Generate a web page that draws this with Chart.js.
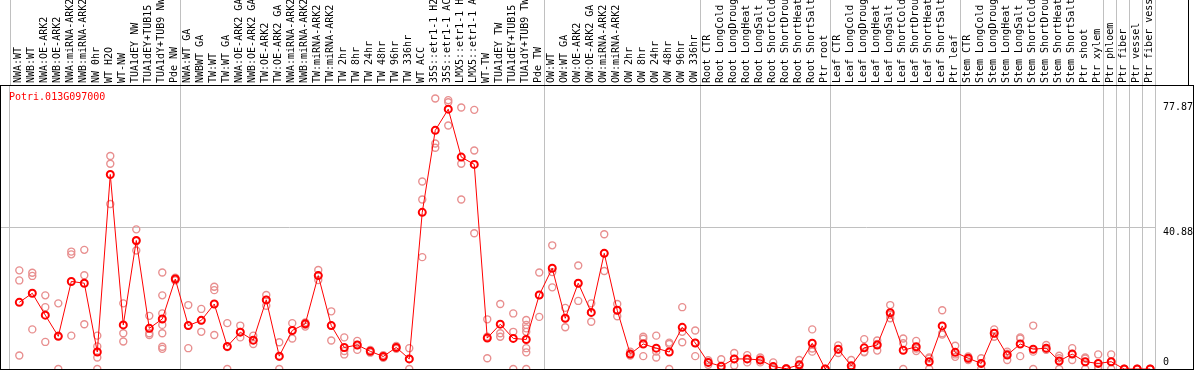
<!DOCTYPE html>
<html>
<head>
<meta charset="utf-8">
<script src="https://cdn.jsdelivr.net/npm/chart.js@4/dist/chart.umd.min.js"></script>
<style>
  body { margin: 0; background: #fff; }
  canvas { display: block; }
</style>
</head>
<body>
<canvas id="myChart" width="1194" height="370"></canvas>
<script>
const geneId = 'Potri.013G097000';

const categories = [
    'NWA:WT', 'NWB:WT', 'NWA:OE-ARK2', 'NWB:OE-ARK2', 'NWA:miRNA-ARK2', 'NWB:miRNA-ARK2', 'NW 0hr', 'WT H2O', 'WT-NW',
    'TUA1dEY NW', 'TUA1dEY+TUB15 NW', 'TUA1dY+TUB9 NW', 'Pde NW',
    'NWA:WT GA', 'NWBWT GA', 'TW:WT', 'TW:WT GA', 'NWA:OE-ARK2 GA', 'NWB:OE-ARK2 GA', 'TW:OE-ARK2', 'TW:OE-ARK2 GA',
    'NWA:miRNA-ARK2', 'NWB:miRNA-ARK2', 'TW:miRNA-ARK2', 'TW:miRNA-ARK2', 'TW 2hr', 'TW 8hr', 'TW 24hr', 'TW 48hr',
    'TW 96hr', 'TW 336hr', 'WT ACC', '35S::etr1-1 H2O', '35S::etr1-1 ACC', 'LMX5::etr1-1 H2O', 'LMX5::etr1-1 ACC',
    'WT-TW', 'TUA1dEY TW', 'TUA1dEY+TUB15 TW', 'TUA1dY+TUB9 TW', 'Pde TW',
    'OW:WT', 'OW:WT GA', 'OW:OE-ARK2', 'OW:OE-ARK2 GA', 'OW:miRNA-ARK2', 'OW:miRNA-ARK2', 'OW 2hr', 'OW 8hr',
    'OW 24hr', 'OW 48hr', 'OW 96hr', 'OW 336hr',
    'Root CTR', 'Root LongCold', 'Root LongDrought', 'Root LongHeat', 'Root LongSalt', 'Root ShortCold',
    'Root ShortDrought', 'Root ShortHeat', 'Root ShortSalt', 'Ptr root',
    'Leaf CTR', 'Leaf LongCold', 'Leaf LongDrought', 'Leaf LongHeat', 'Leaf LongSalt', 'Leaf ShortCold',
    'Leaf ShortDrought', 'Leaf ShortHeat', 'Leaf ShortSalt', 'Ptr leaf',
    'Stem CTR', 'Stem LongCold', 'Stem LongDrought', 'Stem LongHeat', 'Stem LongSalt', 'Stem ShortCold',
    'Stem ShortDrought', 'Stem ShortHeat', 'Stem ShortSalt', 'Ptr shoot', 'Ptr xylem', 'Ptr phloem', 'Ptr fiber',
    'Ptr vessel', 'Ptr fiber vessel'
];

// mean expression per sample
const means = [
    19.2, 21.8, 15.5, 9.4, 25.2, 24.7, 4.9, 56.0, 12.7, 37.0, 11.7, 14.4, 25.9,
    12.5, 14.0, 18.7, 6.5, 10.6, 8.3, 19.9, 3.7, 11.1, 13.0, 26.9, 12.5, 6.2, 6.9, 5.1, 3.6, 6.2, 2.9,
    45.1, 68.7, 74.8, 61.0, 58.9, 8.9, 12.9, 8.8, 8.5, 21.3,
    29.0, 14.6, 24.7, 16.3, 33.3, 16.9, 4.3, 7.2, 6.0, 4.9, 12.0, 7.5,
    1.9, 0.8, 2.9, 2.9, 2.6, 0.7, 0.1, 1.2, 7.4, 0.0,
    5.7, 0.9, 6.1, 6.9, 16.2, 5.4, 6.4, 2.1, 12.4, 4.8,
    3.1, 1.6, 10.3, 4.0, 7.2, 5.7, 6.0, 2.3, 4.3, 2.1, 1.6, 2.1, 0, 0, 0
];

// individual replicates per sample
const replicates = [
    [28.4, 25.5, 3.9], [27.7, 26.8, 11.4], [21.2, 17.8, 7.8], [18.9, 9.6, 0], [33.8, 33.0, 9.6],
    [34.3, 27.0, 12.9], [9.6, 6.5, 3.3, 0], [61.3, 59.1, 47.5], [18.9, 10.3, 7.9], [40.2, 36.8, 34.1],
    [15.3, 10.3, 9.8], [27.8, 21.2, 16.0, 12.7, 10.3, 6.4, 5.8], [26.3, 25.9, 25.5],
    [18.4, 12.5, 6.0], [17.3, 14.0, 10.7], [23.7, 22.7, 9.8], [13.2, 6.3, 0], [12.5, 10.7, 9.1],
    [9.6, 8.3, 7.2], [21.3, 19.9, 18.2], [7.7, 3.5, 0], [13.2, 11.1, 8.8], [13.4, 12.7, 12.2],
    [28.5, 26.9, 25.6], [16.6, 12.5, 8.2], [9.1, 5.2, 4.2], [8.1, 6.9, 5.5], [5.5, 5.1, 4.7],
    [4.0, 3.6, 3.2], [6.6, 6.2, 5.8], [6.0, 2.9, 0],
    [54.0, 48.8, 32.2], [77.87, 64.9, 63.7], [77.4, 76.8, 70.1], [75.3, 59.1, 48.8], [74.6, 62.9, 39.1],
    [14.3, 9.3, 3.1], [18.7, 10.3, 9.3], [16.0, 10.7, 0], [14.1, 12.7, 11.7, 10.7, 6.0, 4.8, 0], [27.8, 21.3, 15.0],
    [35.6, 27.9, 23.5], [17.6, 14.6, 12.0], [29.8, 24.7, 19.6], [18.9, 16.3, 13.6], [38.8, 33.3, 28.2],
    [18.7, 16.9, 15.2], [5.0, 4.3, 3.9], [9.3, 8.7, 3.7], [9.6, 5.0, 3.3], [7.6, 7.2, 0],
    [17.8, 10.7, 7.7], [11.1, 7.5, 3.7],
    [2.5, 1.9, 1.2], [2.8, 0, 0], [4.6, 2.9, 1.0], [4.0, 2.9, 1.9], [3.3, 2.6, 1.9], [1.9, 0.2, 0],
    [0.2, 0, 0], [2.6, 0.9, 0], [11.4, 5.9, 5.0], [0, 0, 0],
    [6.8, 5.7, 4.6], [2.6, 0, 0], [8.6, 5.0, 4.8], [8.2, 7.2, 5.3], [18.4, 15.6, 14.6], [8.8, 7.4, 0],
    [8.1, 5.9, 5.2], [3.3, 3.0, 0], [16.9, 10.3, 9.9], [6.7, 4.2, 3.5],
    [3.6, 3.1, 2.6], [3.1, 1.6, 0], [11.4, 10.3, 9.3], [5.0, 4.4, 2.6], [9.1, 8.8, 3.7], [12.5, 5.0, 0],
    [6.9, 5.7, 5.5], [3.8, 3.1, 0], [6.0, 4.3, 2.6], [3.3, 3.0, 0], [4.2, 0.6, 0], [4.2, 2.1, 0],
    [0, 0, 0], [0, 0, 0], [0, 0, 0]
];

// last sample index of each group (a separator line follows it)
const groupEnds = [12, 40, 52, 62, 72, 83, 84, 85, 86, 87];

const yTicks = [0, 40.88, 77.87];
const yTickLabels = ['0', '40.88', '77.87'];
const yMax = 81.76;

document.addEventListener('DOMContentLoaded', function() {
    const separators = [-0.72].concat(groupEnds.map(i => i + 0.37));

    const meanPoints = means.map((v, i) => ({ x: i, y: v }));
    const repPoints = [];
    replicates.forEach((reps, i) => reps.forEach(v => repPoints.push({ x: i, y: v })));

    const MONO = '"DejaVu Sans Mono", "Liberation Mono", monospace';

    const decor = {
        id: 'decor',
        afterDraw(chart) {
            const ctx = chart.ctx;
            const a = chart.chartArea;
            const x = chart.scales.x;
            const y = chart.scales.y;
            ctx.save();

            // separator lines through the label strip
            ctx.strokeStyle = '#c0c0c0';
            ctx.lineWidth = 1;
            separators.forEach(v => {
                const px = Math.round(x.getPixelForValue(v)) + 0.5;
                ctx.beginPath();
                ctx.moveTo(px, 0);
                ctx.lineTo(px, a.top);
                ctx.stroke();
            });

            // frame
            ctx.strokeStyle = '#000';
            ctx.strokeRect(0.5, a.top + 0.5, chart.width - 1, a.bottom - a.top);
            ctx.beginPath();
            ctx.moveTo(1188.5, 0);
            ctx.lineTo(1188.5, a.top);
            ctx.stroke();

            // sample names, rotated
            ctx.font = '10px ' + MONO;
            ctx.fillStyle = '#000';
            ctx.textAlign = 'left';
            ctx.textBaseline = 'middle';
            categories.forEach((c, i) => {
                ctx.save();
                ctx.translate(x.getPixelForValue(i) - 1, a.top - 2);
                ctx.rotate(-Math.PI / 2);
                ctx.fillText(c, 0, 0);
                ctx.restore();
            });

            // gene id
            ctx.fillStyle = '#ff0000';
            ctx.fillText(geneId, 9, a.top + 12);

            // y labels on the right
            ctx.fillStyle = '#000';
            yTicks.forEach((v, k) => {
                let py = y.getPixelForValue(v);
                if (v === 0) py -= 7;
                else if (v === yTicks[yTicks.length - 1]) py += 9;
                else py += 5;
                ctx.fillText(yTickLabels[k], 1163, py);
            });

            ctx.restore();
        }
    };

    const ctx = document.getElementById('myChart').getContext('2d');

    const myChart = new Chart(ctx, {
        type: 'line',
        data: {
            datasets: [
                {
                    label: 'mean',
                    data: meanPoints,
                    borderColor: '#ff0000',
                    borderWidth: 1,
                    pointRadius: 3.5,
                    pointBorderWidth: 2,
                    pointBorderColor: '#ff0000',
                    pointBackgroundColor: 'rgba(0,0,0,0)',
                    tension: 0,
                    clip: false,
                    order: 0
                },
                {
                    type: 'scatter',
                    label: 'replicates',
                    data: repPoints,
                    showLine: false,
                    pointRadius: 3.5,
                    pointBorderWidth: 1.4,
                    pointBorderColor: '#e88f8f',
                    pointBackgroundColor: 'rgba(0,0,0,0)',
                    clip: false,
                    order: 1
                }
            ]
        },
        options: {
            responsive: false,
            devicePixelRatio: 1,
            animation: false,
            events: [],
            layout: {
                autoPadding: false,
                padding: { top: 85, left: 1, right: 0, bottom: 1 }
            },
            plugins: {
                legend: { display: false },
                tooltip: { enabled: false }
            },
            scales: {
                x: {
                    type: 'linear',
                    min: -1.408,
                    max: 87.37,
                    afterBuildTicks: s => { s.ticks = separators.map(v => ({ value: v })); },
                    ticks: { display: false },
                    border: { display: false },
                    grid: { color: '#c0c0c0', lineWidth: 1, drawTicks: false }
                },
                y: {
                    type: 'linear',
                    position: 'right',
                    min: 0,
                    max: yMax,
                    afterBuildTicks: s => { s.ticks = yTicks.map(v => ({ value: v })); },
                    afterFit: s => { s.width = 39; },
                    ticks: { display: false },
                    border: { display: false },
                    grid: {
                        drawTicks: false,
                        color: c => (c.tick && c.tick.value === yTicks[1]) ? '#c0c0c0' : 'rgba(0,0,0,0)'
                    }
                }
            }
        },
        plugins: [decor]
    });
});
</script>
</body>
</html>
